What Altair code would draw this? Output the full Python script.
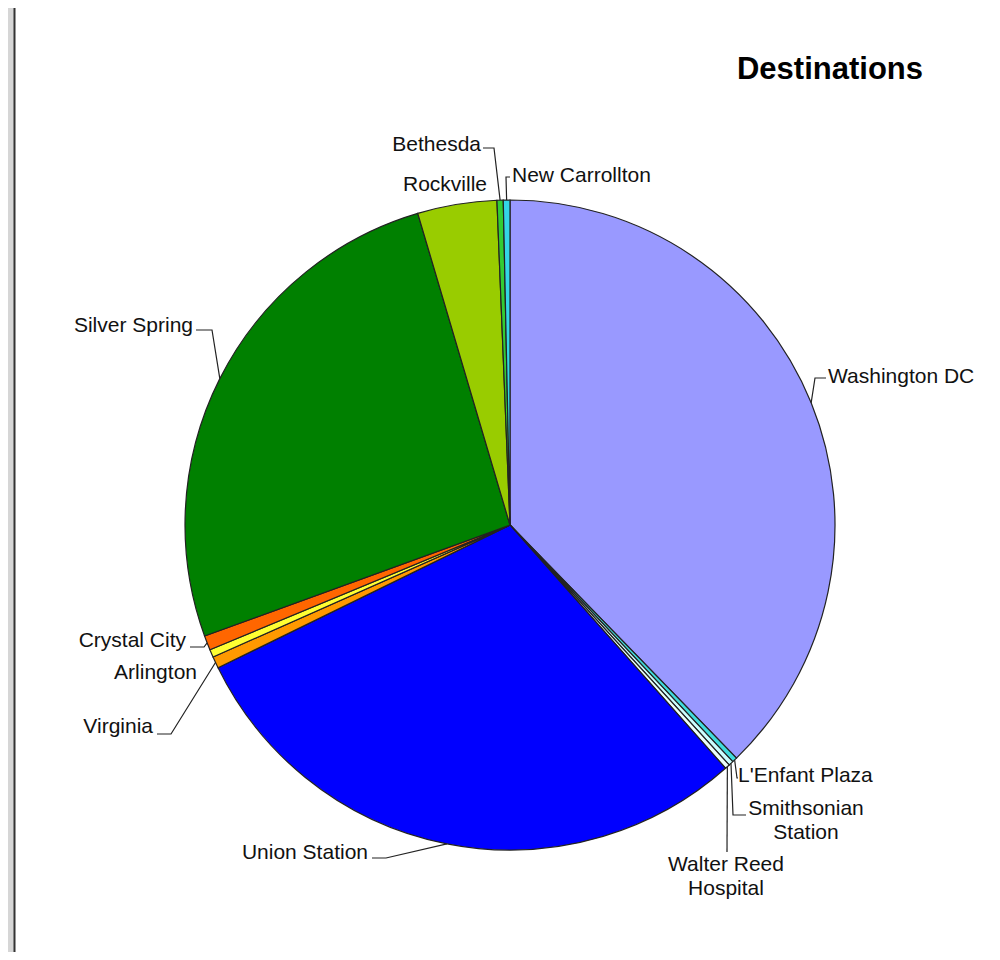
import math
import altair as alt
import pandas as pd

# ---------------- data ----------------
categories = ["Washington DC", "L'Enfant Plaza", "Smithsonian Station",
              "Walter Reed Hospital", "Union Station", "Virginia", "Arlington",
              "Crystal City", "Silver Spring", "Rockville", "Bethesda",
              "New Carrollton"]
shares = [37.73, 0.25, 0.24, 0.24, 29.3, 0.58, 0.39, 0.72, 25.97, 3.94, 0.31, 0.33]
label_text = ["Washington DC", "L'Enfant Plaza", "Smithsonian\nStation",
              "Walter Reed\nHospital", "Union Station", "Virginia", "Arlington",
              "Crystal City", "Silver Spring", "Rockville", "Bethesda",
              "New Carrollton"]
colors = ["#9999ff", "#3fdcdc", "#ccffff", "#ecfffa", "#0000ff", "#ff9900",
          "#ffff33", "#ff6600", "#008000", "#99cc00", "#33cc33", "#33d6e6"]
title_text = "Destinations"

# ---------------- layout (page pixel coords, minus page margin) ----------------
OFF = 8
W, H = 984, 944
CX, CY, R = 510 - OFF, 525 - OFF, 325

label_layout = {
    "Washington DC": (828, 377, "left"),
    "L'Enfant Plaza": (738, 776, "left"),
    "Smithsonian Station": (806, 809, "center"),
    "Walter Reed Hospital": (726, 865, "center"),
    "Union Station": (368, 853, "right"),
    "Virginia": (153, 727, "right"),
    "Arlington": (197, 673, "right"),
    "Crystal City": (186, 641, "right"),
    "Silver Spring": (193, 326, "right"),
    "Rockville": (487, 185, "right"),
    "Bethesda": (481, 145, "right"),
    "New Carrollton": (512, 176, "left"),
}
leader_bends = {
    "Washington DC": [(815, 378), (826, 378)],
    "L'Enfant Plaza": [(737, 778), (738, 778)],
    "Smithsonian Station": [(733, 815), (746, 815)],
    "Walter Reed Hospital": [(727, 852)],
    "Union Station": [(386, 858), (372, 858)],
    "Virginia": [(171, 734), (157, 734)],
    "Crystal City": [(204, 647), (190, 647)],
    "Silver Spring": [(212, 330), (196, 330)],
    "Bethesda": [(494, 148), (483, 148)],
    "New Carrollton": [(506, 177), (510, 177)],
}

# ---------------- tables ----------------
pie_df = pd.DataFrame({"category": categories, "share": shares,
                       "idx": list(range(len(categories)))})

total = sum(shares)
cum = 0.0
line_rows = []
for cat, s in zip(categories, shares):
    mid = (cum + s / 2) / total * 2 * math.pi
    cum += s
    if cat not in leader_bends:
        continue
    rx = CX + R * math.sin(mid)
    ry = CY - R * math.cos(mid)
    pts = [(rx, ry)] + [(bx - OFF, by - OFF) for bx, by in leader_bends[cat]]
    for i, (px, py) in enumerate(pts):
        line_rows.append({"category": cat, "pt": i, "x": px, "y": py})
lines_df = pd.DataFrame(line_rows)

lab_rows = []
for cat, txt in zip(categories, label_text):
    lx, ly, al = label_layout[cat]
    lab_rows.append({"category": cat, "text": txt, "x": lx - OFF, "y": ly - OFF, "align": al})
lab_df = pd.DataFrame(lab_rows)

xs = alt.Scale(domain=[0, W], range=[0, W])
ys = alt.Scale(domain=[0, H], range=[0, H])
FONT = "Liberation Sans"

frame = alt.Chart(pd.DataFrame({"k": [0]})).mark_rect(
    fill="white", stroke="#333333", strokeWidth=2
).encode(x=alt.value(6.5), x2=alt.value(W + 20), y=alt.value(-20), y2=alt.value(H + 20))

arcs = alt.Chart(pie_df).mark_arc(radius=R, stroke="#222222", strokeWidth=1.2).encode(
    theta=alt.Theta("share:Q", stack=True),
    color=alt.Color("category:N", scale=alt.Scale(domain=categories, range=colors), legend=None),
    order=alt.Order("idx:Q"),
    x=alt.value(CX), y=alt.value(CY),
)

leaders = alt.Chart(lines_df).mark_line(color="#222222", strokeWidth=1.2).encode(
    x=alt.X("x:Q", scale=xs, axis=None),
    y=alt.Y("y:Q", scale=ys, axis=None),
    detail="category:N",
    order="pt:Q",
)

text_layers = []
for al in ["left", "right", "center"]:
    text_layers.append(
        alt.Chart(lab_df).transform_filter(alt.datum.align == al).mark_text(
            align=al, baseline="middle", font=FONT, fontSize=21, color="#111111",
            lineBreak="\n", lineHeight=24,
        ).encode(
            x=alt.X("x:Q", scale=xs, axis=None),
            y=alt.Y("y:Q", scale=ys, axis=None),
            text="text:N",
        )
    )

title = alt.Chart(pd.DataFrame({"t": [title_text]})).mark_text(
    align="center", baseline="middle", font=FONT, fontSize=31, fontWeight="bold", color="#000000"
).encode(x=alt.value(830 - OFF), y=alt.value(70 - OFF), text="t:N")

chart = alt.layer(frame, arcs, leaders, *text_layers, title).properties(
    width=W, height=H, padding=0,
    autosize=alt.AutoSizeParams(type="none"),
    background="#d6d6d6",
).configure_view(strokeWidth=0)

chart.save("out.html", embed_options={"renderer": "svg", "actions": False})
